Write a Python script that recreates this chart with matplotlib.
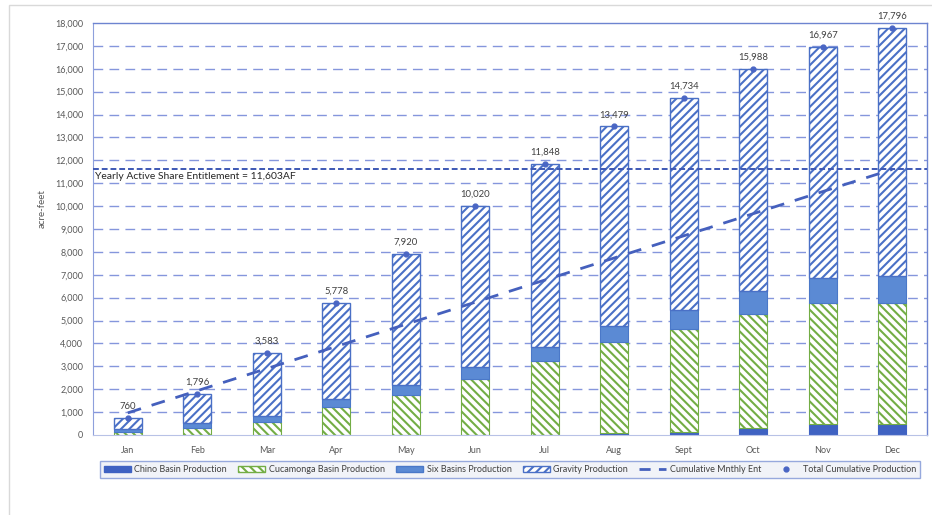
import matplotlib
matplotlib.use("Agg")
import matplotlib.pyplot as plt
from matplotlib.patches import Rectangle, Patch
from matplotlib.lines import Line2D
import numpy as np

months = ["Jan", "Feb", "Mar", "Apr", "May", "Jun", "Jul", "Aug", "Sept", "Oct", "Nov", "Dec"]
chino = [0, 0, 0, 0, 0, 0, 0, 80, 140, 320, 480, 480]
cucamonga = [150, 290, 580, 1220, 1750, 2445, 3230, 3970, 4500, 4965, 5270, 5270]
six_basins = [130, 220, 263, 350, 435, 525, 610, 710, 830, 1020, 1105, 1205]
gravity = [480, 1286, 2740, 4206, 5737, 7051, 8005, 8719, 9262, 9686, 10111, 10839]
total = [760, 1796, 3583, 5778, 7920, 10020, 11848, 13479, 14734, 15988, 16967, 17796]
cum_ent = [967, 1934, 2901, 3868, 4835, 5802, 6769, 7735, 8702, 9669, 10636, 11603]
entitlement = 11603
yticks = list(range(0, 18001, 1000))

plt.rcParams['font.family'] = ['Lato', 'DejaVu Sans']
plt.rcParams['hatch.linewidth'] = 1.5

fig = plt.figure(figsize=(9.32, 5.15), dpi=100)
ax = fig.add_axes([93/932, 80/515, 834/932, 412/515])

x = np.arange(len(months))
w = 0.4
c_chino = '#3f62c2'
c_six = '#5b8ad4'
c_grav = '#4a70c6'
c_cuc = '#73ad45'
grid_c = '#8596dc'

ax.set_axisbelow(True)
for yv in yticks[1:-1]:
    ax.axhline(yv, color=grid_c, lw=1.0, dashes=(7, 4.5), zorder=0)

b0 = np.zeros(len(months))
ax.bar(x, chino, w, bottom=b0, color=c_chino, edgecolor=c_chino, lw=0.8, zorder=2)
b1 = b0 + np.array(chino)
ax.bar(x, cucamonga, w, bottom=b1, color='white', edgecolor=c_cuc, hatch='\\\\\\\\', lw=0.8, zorder=2)
b2 = b1 + np.array(cucamonga)
ax.bar(x, six_basins, w, bottom=b2, color=c_six, edgecolor='#4a78c8', lw=0.8, zorder=2)
b3 = b2 + np.array(six_basins)
ax.bar(x, gravity, w, bottom=b3, color='white', edgecolor=c_grav, hatch='////', lw=1.0, zorder=2)

ax.plot(x, cum_ent, color='#4560bd', lw=2.0, dashes=(5, 4), zorder=4)
ax.axhline(entitlement, color='#3d58b4', lw=1.4, dashes=(3, 1.5), zorder=4)
ax.text(-0.47, entitlement - 130, "Yearly Active Share Entitlement = 11,603AF",
        ha='left', va='top', fontsize=7.5, color='#262626', zorder=5)

ax.plot(x, total, 'o', color='#4a66c4', ms=3.5, zorder=5)
for xi, t in zip(x, total):
    ax.annotate(f"{t:,}", (xi, t), xytext=(0, 5), textcoords='offset points',
                ha='center', va='bottom', fontsize=6.8, color='#404040', zorder=6)

ax.set_xlim(-0.5, len(months) - 0.5)
ax.set_ylim(0, 18000)
ax.set_yticks(yticks)
ax.set_yticklabels([f"{v:,}" for v in yticks], fontsize=6.5, color='#595959')
ax.set_xticks(x)
ax.set_xticklabels(months, fontsize=6.5, color='#595959')
ax.tick_params(length=0)
ax.tick_params(axis='x', pad=8)
ax.tick_params(axis='y', pad=7)
for s in ['top', 'right']:
    ax.spines[s].set_color('#6d84d0')
    ax.spines[s].set_linewidth(1.0)
ax.spines['left'].set_color('#8ea0dc')
ax.spines['bottom'].set_color('#b8c2e6')
ax.set_ylabel("acre-feet", fontsize=7, color='#595959')
ax.yaxis.set_label_coords(-46/834, 0.55)

handles = [
    Patch(facecolor=c_chino, edgecolor=c_chino),
    Patch(facecolor='white', edgecolor=c_cuc, hatch='\\\\\\\\'),
    Patch(facecolor=c_six, edgecolor='#4a78c8'),
    Patch(facecolor='white', edgecolor=c_grav, hatch='////'),
    Line2D([], [], color='#4560bd', lw=2, dashes=(4, 3)),
    Line2D([], [], marker='o', ls='none', color='#4a66c4', ms=3.5),
]
labels = ["Chino Basin Production", "Cucamonga Basin Production", "Six Basins Production",
          "Gravity Production", "Cumulative Mnthly Ent", "Total Cumulative Production"]
leg = fig.legend(handles, labels, loc='lower left', ncol=6, mode='expand',
                 bbox_to_anchor=(95/932, 32/515, 830/932, 22/515),
                 fontsize=6.5, frameon=True, fancybox=False, borderpad=0.45,
                 handlelength=3.0, handleheight=0.6, handletextpad=0.4, columnspacing=1.0)
leg.get_frame().set_facecolor('#eef0f7')
leg.get_frame().set_edgecolor('#7f95d6')
leg.get_frame().set_linewidth(1.0)
for t in leg.get_texts():
    t.set_color('#404040')

fig.patches.append(Rectangle((9/932, -10/515), 940/932, 520/515, transform=fig.transFigure,
                             fill=False, edgecolor='#d9d9d9', lw=1.0))

fig.savefig("out.png", dpi=100)
